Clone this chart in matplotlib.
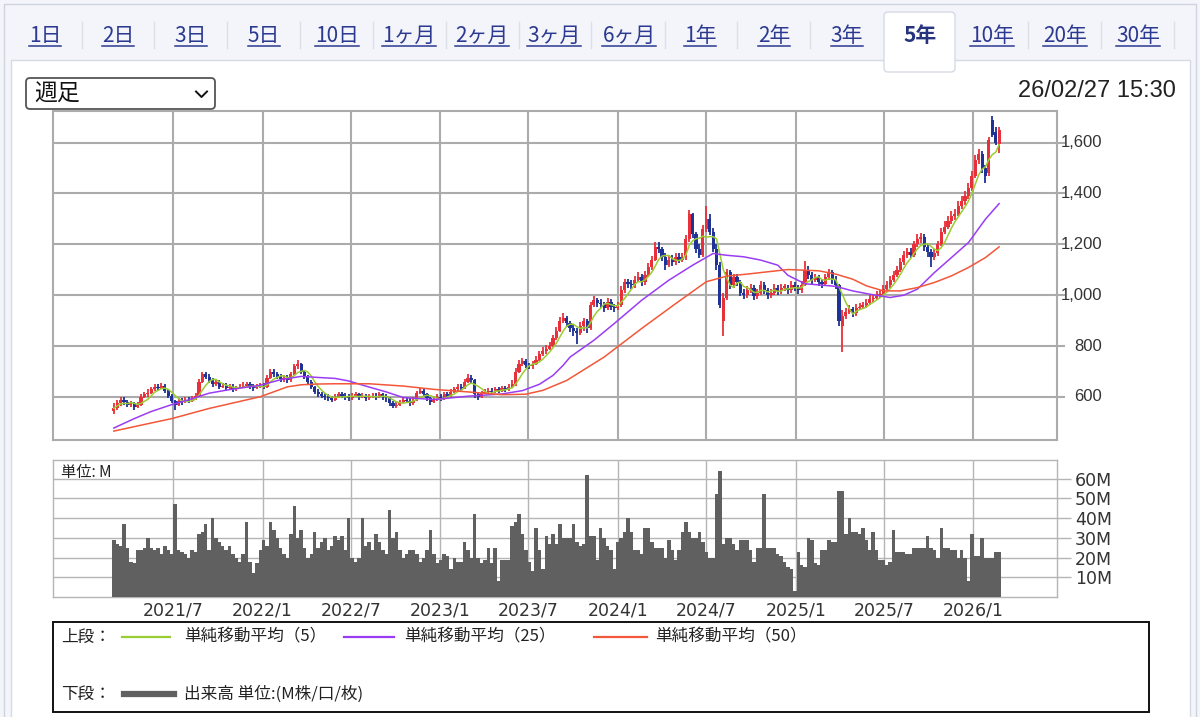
import numpy as np
import pandas as pd
import matplotlib
matplotlib.use("Agg")
import matplotlib.pyplot as plt
import matplotlib.dates as mdates
from matplotlib.patches import Rectangle, FancyBboxPatch

plt.rcParams['font.family'] = ['Noto Sans CJK JP', 'DejaVu Sans']

# weekly candles, one per week starting Monday 2021-03-01
opens = [545, 555, 575, 590, 580, 570, 575, 560, 570, 600,
         610, 615, 630, 640, 635, 645, 625, 605, 585, 570,
         585, 580, 590, 585, 595, 605, 660, 690, 680, 665,
         650, 660, 640, 645, 635, 640, 630, 635, 640, 645,
         650, 640, 635, 640, 645, 640, 675, 700, 690, 680,
         670, 675, 665, 690, 720, 730, 700, 680, 660, 640,
         620, 610, 605, 600, 595, 590, 600, 610, 605, 600,
         595, 605, 610, 600, 605, 595, 600, 605, 600, 610,
         600, 595, 575, 565, 570, 580, 590, 585, 575, 590,
         615, 625, 610, 595, 580, 590, 600, 595, 610, 605,
         620, 630, 640, 635, 660, 675, 665, 610, 600, 615,
         620, 625, 620, 630, 625, 635, 630, 640, 650, 700,
         730, 740, 725, 720, 730, 745, 770, 780, 790, 800,
         830, 860, 900, 910, 890, 870, 860, 850, 880, 900,
         870, 960, 980, 970, 965, 950, 975, 955, 950, 960,
         1020, 1050, 1045, 1040, 1060, 1070, 1050, 1080, 1110, 1140,
         1190, 1180, 1150, 1120, 1140, 1130, 1150, 1140, 1150, 1220,
         1320, 1240, 1180, 1160, 1260, 1300, 1250, 1180, 1120, 900,
         990, 1090, 1040, 1070, 1050, 1010, 1000, 1020, 1030, 995,
         1010, 1040, 1020, 1000, 1010, 1030, 1015, 1030, 1030, 1020,
         1040, 1030, 1020, 1040, 1100, 1080, 1060, 1070, 1050, 1045,
         1070, 1090, 1060, 1040, 880, 920, 935, 945, 930, 950,
         955, 960, 970, 985, 990, 1000, 1005, 1025, 1040, 1060,
         1080, 1100, 1130, 1160, 1170, 1160, 1200, 1220, 1230, 1190,
         1170, 1150, 1165, 1200, 1250, 1270, 1290, 1310, 1320, 1350,
         1370, 1390, 1420, 1470, 1530, 1555, 1500, 1480, 1690, 1640,
         1595]
highs = [575, 590, 600, 600, 590, 585, 580, 580, 610, 620,
         630, 640, 650, 650, 655, 650, 630, 610, 590, 595,
         595, 600, 600, 605, 615, 670, 700, 700, 690, 675,
         670, 665, 655, 655, 650, 650, 645, 650, 660, 660,
         660, 650, 650, 655, 655, 685, 710, 710, 700, 690,
         685, 685, 700, 730, 745, 735, 705, 685, 665, 645,
         630, 620, 615, 610, 605, 610, 620, 620, 615, 610,
         615, 620, 615, 615, 610, 610, 615, 615, 620, 615,
         610, 600, 585, 580, 590, 600, 600, 595, 600, 625,
         635, 630, 615, 600, 600, 610, 610, 620, 620, 630,
         640, 650, 650, 670, 690, 685, 670, 620, 625, 630,
         635, 635, 640, 640, 645, 645, 650, 665, 715, 745,
         755, 750, 735, 740, 760, 780, 795, 805, 815, 845,
         875, 915, 930, 920, 900, 885, 870, 895, 910, 905,
         975, 995, 990, 985, 975, 990, 985, 965, 975, 1035,
         1065, 1065, 1060, 1075, 1090, 1085, 1095, 1125, 1155, 1210,
         1210, 1190, 1165, 1160, 1160, 1165, 1165, 1165, 1235, 1335,
         1325, 1250, 1200, 1275, 1350, 1320, 1265, 1200, 1130, 1010,
         1105, 1100, 1085, 1085, 1060, 1025, 1035, 1045, 1040, 1025,
         1055, 1050, 1030, 1025, 1045, 1040, 1045, 1045, 1040, 1055,
         1050, 1040, 1055, 1135, 1115, 1090, 1085, 1080, 1065, 1085,
         1105, 1100, 1075, 1045, 940, 950, 960, 955, 965, 970,
         975, 985, 1000, 1005, 1015, 1020, 1040, 1055, 1075, 1095,
         1115, 1145, 1175, 1185, 1185, 1215, 1240, 1245, 1240, 1200,
         1180, 1180, 1215, 1265, 1290, 1310, 1330, 1340, 1370, 1390,
         1410, 1440, 1490, 1550, 1575, 1565, 1510, 1620, 1705, 1660,
         1660]
lows = [535, 550, 565, 570, 560, 560, 550, 555, 565, 595,
        600, 610, 625, 625, 630, 615, 595, 575, 550, 565,
        570, 575, 575, 580, 590, 600, 655, 670, 655, 640,
        645, 630, 635, 625, 630, 620, 625, 630, 635, 640,
        630, 625, 630, 635, 630, 635, 670, 680, 670, 660,
        660, 655, 660, 685, 710, 690, 670, 650, 630, 610,
        600, 595, 590, 585, 580, 585, 595, 595, 590, 585,
        590, 600, 590, 595, 585, 590, 595, 590, 595, 590,
        580, 565, 555, 555, 565, 575, 575, 565, 570, 585,
        610, 600, 585, 570, 575, 585, 585, 590, 595, 600,
        615, 625, 625, 630, 655, 655, 595, 590, 595, 610,
        615, 610, 615, 615, 620, 620, 625, 635, 645, 695,
        720, 715, 710, 710, 725, 740, 760, 770, 785, 795,
        825, 855, 890, 875, 855, 840, 810, 845, 860, 850,
        865, 955, 955, 950, 935, 940, 940, 935, 940, 955,
        1010, 1030, 1025, 1030, 1050, 1035, 1040, 1070, 1100, 1135,
        1165, 1135, 1100, 1110, 1115, 1120, 1125, 1130, 1140, 1210,
        1225, 1165, 1145, 1150, 1250, 1235, 1170, 1100, 950, 840,
        980, 1025, 1030, 1035, 995, 985, 990, 1010, 980, 985,
        1000, 1005, 985, 990, 1000, 1000, 1005, 1015, 1005, 1010,
        1015, 1005, 1010, 1035, 1065, 1045, 1050, 1035, 1030, 1035,
        1060, 1045, 1025, 880, 775, 905, 925, 915, 920, 940,
        945, 950, 960, 975, 980, 990, 995, 1015, 1030, 1050,
        1070, 1090, 1120, 1145, 1145, 1150, 1190, 1205, 1175, 1150,
        1110, 1140, 1155, 1195, 1240, 1260, 1280, 1295, 1310, 1340,
        1355, 1380, 1410, 1460, 1515, 1480, 1440, 1470, 1620, 1590,
        1560]
closes = [555, 575, 590, 580, 570, 575, 560, 570, 600, 610,
          615, 630, 640, 635, 645, 625, 605, 585, 570, 585,
          580, 590, 585, 595, 605, 660, 690, 680, 665, 650,
          660, 640, 645, 635, 640, 630, 635, 640, 645, 650,
          640, 635, 640, 645, 640, 675, 700, 690, 680, 670,
          675, 665, 690, 720, 730, 700, 680, 660, 640, 620,
          610, 605, 600, 595, 590, 600, 610, 605, 600, 595,
          605, 610, 600, 605, 595, 600, 605, 600, 610, 600,
          595, 575, 565, 570, 580, 590, 585, 575, 590, 615,
          625, 610, 595, 580, 590, 600, 595, 610, 605, 620,
          630, 640, 635, 660, 675, 665, 610, 600, 615, 620,
          625, 620, 630, 625, 635, 630, 640, 650, 700, 730,
          740, 725, 720, 730, 745, 770, 780, 790, 800, 830,
          860, 900, 910, 890, 870, 860, 850, 880, 900, 870,
          960, 980, 970, 965, 950, 975, 955, 950, 960, 1020,
          1050, 1045, 1040, 1060, 1070, 1050, 1080, 1110, 1140, 1190,
          1180, 1150, 1120, 1140, 1130, 1150, 1140, 1150, 1220, 1320,
          1240, 1180, 1160, 1260, 1300, 1250, 1180, 1120, 960, 990,
          1090, 1040, 1070, 1050, 1010, 1000, 1020, 1030, 995, 1010,
          1040, 1020, 1000, 1010, 1030, 1015, 1030, 1030, 1020, 1040,
          1030, 1020, 1040, 1100, 1080, 1060, 1070, 1050, 1045, 1070,
          1090, 1060, 1040, 900, 920, 935, 945, 930, 950, 955,
          960, 970, 985, 990, 1000, 1005, 1025, 1040, 1060, 1080,
          1100, 1130, 1160, 1170, 1160, 1200, 1220, 1230, 1190, 1170,
          1150, 1165, 1200, 1250, 1270, 1290, 1310, 1320, 1350, 1370,
          1390, 1420, 1470, 1530, 1555, 1500, 1470, 1610, 1630, 1600,
          1650]
# weekly volume, millions of shares
volumes = [29, 27, 26, 37, 25, 18, 17, 24, 24, 25,
           30, 25, 24, 25, 22, 26, 24, 22, 47, 24,
           23, 22, 20, 24, 23, 32, 33, 37, 24, 40,
           30, 28, 26, 24, 26, 22, 20, 18, 22, 38,
           18, 12, 17, 24, 29, 26, 38, 34, 30, 25,
           22, 20, 32, 46, 30, 34, 25, 20, 22, 33,
           25, 28, 30, 24, 26, 31, 29, 31, 24, 40,
           20, 18, 20, 40, 26, 28, 24, 32, 28, 24,
           22, 44, 30, 33, 24, 20, 22, 24, 24, 22,
           18, 20, 24, 34, 22, 17, 19, 22, 21, 14,
           20, 18, 18, 28, 24, 20, 42, 20, 17, 19,
           25, 17, 25, 8, 19, 19, 19, 36, 38, 42,
           32, 24, 18, 13, 35, 24, 14, 31, 27, 32,
           27, 37, 30, 30, 30, 37, 28, 26, 27, 62,
           31, 31, 19, 35, 30, 26, 24, 14, 28, 30,
           33, 40, 33, 24, 24, 22, 35, 35, 28, 25,
           25, 25, 20, 29, 24, 19, 24, 33, 38, 33,
           30, 30, 33, 28, 23, 20, 20, 52, 64, 27,
           30, 30, 27, 24, 29, 29, 29, 24, 18, 25,
           25, 52, 25, 25, 25, 22, 21, 18, 15, 14,
           3, 23, 16, 15, 30, 29, 17, 16, 24, 24,
           29, 28, 28, 54, 54, 32, 40, 33, 33, 32,
           35, 29, 24, 33, 24, 19, 19, 16, 18, 34,
           23, 23, 23, 22, 22, 25, 25, 25, 25, 31,
           25, 24, 20, 35, 25, 25, 24, 24, 20, 24,
           20, 8, 32, 21, 21, 30, 20, 20, 20, 23,
           23]

# 25 and 50 week moving averages (week index, value)
ma25_weeks = [0, 6, 11, 17, 22, 28, 34, 43, 49, 55, 61, 65, 69, 75, 80, 85, 94,
              104, 114, 120, 125, 129, 132, 134, 141, 147, 155, 163, 170, 176,
              180, 185, 190, 195, 198, 203, 212, 217, 222, 228, 232, 236, 241,
              246, 251, 256, 260]
ma25_vals = [478, 515, 543, 570, 589, 615, 629, 646, 668, 681, 676, 673, 663, 639,
             620, 598, 590, 603, 612, 625, 650, 685, 725, 757, 823, 889, 980,
             1059, 1118, 1164, 1157, 1151, 1138, 1118, 1078, 1045, 1035, 1017,
             1004, 991, 1000, 1024, 1089, 1148, 1207, 1299, 1360]
ma50_weeks = [0, 10, 17, 28, 43, 51, 55, 60, 65, 75, 85, 94, 104, 114, 121, 126,
              133, 144, 155, 165, 174, 180, 186, 192, 198, 207, 212, 217, 221,
              226, 231, 236, 241, 246, 251, 256, 260]
ma50_vals = [466, 495, 515, 555, 601, 640, 648, 651, 652, 652, 643, 630, 620, 609,
             611, 626, 665, 757, 869, 967, 1053, 1075, 1083, 1092, 1101, 1096,
             1083, 1063, 1037, 1017, 1017, 1030, 1050, 1076, 1109, 1148, 1190]

grid_dates = ['2021-07-01', '2022-01-01', '2022-07-01', '2023-01-01', '2023-07-01',
              '2024-01-01', '2024-07-01', '2025-01-01', '2025-07-01', '2026-01-01']
grid_labels = ['2021/7', '2022/1', '2022/7', '2023/1', '2023/7',
               '2024/1', '2024/7', '2025/1', '2025/7', '2026/1']
price_ticks = [600, 800, 1000, 1200, 1400, 1600]
vol_ticks = [10, 20, 30, 40, 50, 60]

tab_labels = ['1日', '2日', '3日', '5日', '10日', '1ヶ月', '2ヶ月', '3ヶ月', '6ヶ月',
              '1年', '2年', '3年', '5年', '10年', '20年', '30年']
tab_cx = [45, 118, 191, 264, 337, 409, 482, 554, 629, 700, 774, 847, 920, 992, 1065, 1138]
tab_sep = [82, 154, 227, 300, 373, 446, 519, 591, 665, 737, 810, 1028, 1101, 1174]
selected = '5年'

RED = '#e8303a'
BLUE = '#1f3296'
GRID = '#ababab'
LINK = '#2b3990'

W, H = 1200, 717
fig = plt.figure(figsize=(W / 100, H / 100), dpi=100)
fig.patch.set_facecolor('#f4f5fb')

bg = fig.add_axes([0, 0, 1, 1])
bg.set_xlim(0, W)
bg.set_ylim(H, 0)
bg.axis('off')
bg.set_zorder(0)


def box(x0, y0, w, h):
    return [x0 / W, 1 - (y0 + h) / H, w / W, h / H]


# page frame, white panel and tab bar
bg.add_patch(Rectangle((3.5, 3.5), 1192, 720, fc='none', ec='#cfd3de', lw=1))
bg.add_patch(Rectangle((11, 60), 1179, 665, fc='white', ec='#d6dae4', lw=1))
bg.add_patch(FancyBboxPatch((884, 12), 71, 60, boxstyle='round,pad=0,rounding_size=4',
                            fc='white', ec='#d6dae4', lw=1))
bg.add_patch(Rectangle((885, 58), 69, 8, fc='white', ec='none'))
for sx in tab_sep:
    bg.plot([sx, sx], [22, 48], color='#dcdfe8', lw=1)

tab_texts = []
for lab, cx in zip(tab_labels, tab_cx):
    if lab == selected:
        bg.text(cx, 36, lab, ha='center', va='center', fontsize=15, color='#26347f',
                fontweight='bold')
    else:
        tab_texts.append(bg.text(cx, 36, lab, ha='center', va='center', fontsize=15,
                                 color=LINK))

# select box and time stamp
bg.add_patch(FancyBboxPatch((26, 78), 189, 31, boxstyle='round,pad=0,rounding_size=4',
                            fc='white', ec='#555555', lw=1.3))
bg.text(34, 94, '週足', ha='left', va='center', fontsize=16.5, color='#111111')
bg.plot([196, 201.5, 207], [91.5, 97, 91.5], color='#111111', lw=1.4)
bg.text(1176, 91, '26/02/27 15:30', ha='right', va='center', fontsize=17,
        family='Liberation Sans', color='#222222')

# legend box
bg.add_patch(Rectangle((53, 622), 1096, 90, fc='white', ec='#111111', lw=1.4))
ly1, ly2 = 637, 694
bg.text(61, ly1, '上段：', ha='left', va='center', fontsize=12, color='#222222')
bg.plot([122, 170], [ly1, ly1], color='#9acd32', lw=1.6)
bg.text(184, ly1, '単純移動平均（5）', ha='left', va='center', fontsize=12, color='#222222')
bg.plot([344, 394], [ly1, ly1], color='#9b3cf5', lw=1.6)
bg.text(404, ly1, '単純移動平均（25）', ha='left', va='center', fontsize=12, color='#222222')
bg.plot([594, 647], [ly1, ly1], color='#f2573a', lw=1.6)
bg.text(655, ly1, '単純移動平均（50）', ha='left', va='center', fontsize=12, color='#222222')
bg.text(61, ly2, '下段：', ha='left', va='center', fontsize=12, color='#222222')
bg.plot([124, 174], [ly2, ly2], color='#606060', lw=4.5)
bg.text(184, ly2, '出来高 単位:(M株/口/枚)', ha='left', va='center', fontsize=12,
        color='#222222')

# price panel
dates = pd.date_range('2021-03-01', periods=len(closes), freq='7D')
x = mdates.date2num(dates)
gx = mdates.date2num(pd.to_datetime(grid_dates))
x_left = mdates.date2num(pd.Timestamp('2020-10-27'))
x_right = mdates.date2num(pd.Timestamp('2026-06-22'))

ax = fig.add_axes(box(53, 111, 1004, 329))
ax.set_zorder(2)
ax.set_facecolor('white')
ax.set_xlim(x_left, x_right)
ax.set_ylim(431, 1724)
ax.set_xticks(gx)
ax.set_yticks(price_ticks)
ax.grid(True, color=GRID, lw=1.5)
ax.set_axisbelow(True)
ax.tick_params(axis='x', length=0, labelbottom=False)
ax.yaxis.tick_right()
ax.tick_params(axis='y', length=6, width=1.5, color=GRID, labelright=False)
for s in ax.spines.values():
    s.set_color(GRID)
    s.set_linewidth(1.5)
for v in price_ticks:
    ax.text(1.0450, v, f'{v:,}', transform=ax.get_yaxis_transform(), ha='right',
            va='center', fontsize=12, family='Liberation Sans', color='#333333')

o = np.array(opens)
c = np.array(closes)
hi = np.array(highs)
lo = np.array(lows)
cols = np.where(c >= o, RED, BLUE)
ax.vlines(x, lo, hi, colors=cols, lw=1.3, zorder=3)
ax.bar(x, np.maximum(np.abs(c - o), 5), bottom=np.minimum(o, c), width=6.5,
       color=cols, linewidth=0, zorder=3)

ma5 = pd.Series(closes).rolling(5, min_periods=1).mean()
ax.plot(x, ma5, color='#9acd32', lw=1.1, zorder=4)
ax.plot(x[ma25_weeks], ma25_vals, color='#9b3cf5', lw=1.1, zorder=4)
ax.plot(x[ma50_weeks], ma50_vals, color='#f2573a', lw=1.1, zorder=4)

# volume panel
axv = fig.add_axes(box(53, 460, 1004, 137))
axv.set_zorder(2)
axv.set_facecolor('white')
axv.set_xlim(x_left, x_right)
axv.set_ylim(0, 69.5)
axv.bar(x, volumes, width=7.0, color='#606060', linewidth=0, zorder=3)
axv.set_xticks(gx)
axv.set_xticklabels(grid_labels)
axv.set_yticks(vol_ticks)
axv.set_yticklabels([f'{v}M' for v in vol_ticks])
axv.grid(True, color='#b5b5b5', lw=1.0)
axv.set_axisbelow(True)
axv.yaxis.tick_right()
axv.tick_params(axis='y', length=10, width=1.0, color='#b5b5b5', pad=3,
                labelsize=12.5, labelcolor='#333333')
axv.tick_params(axis='x', length=0, pad=3, labelsize=12.5, labelcolor='#333333')
for lab in axv.get_xticklabels() + axv.get_yticklabels():
    lab.set_family('DejaVu Sans')
for s in axv.spines.values():
    s.set_color('#b5b5b5')
    s.set_linewidth(1.0)
axv.text(8 / 1004, 1 - 13 / 137, '単位: M', transform=axv.transAxes, ha='left',
         va='center', fontsize=11, color='#222222')

# underline the tab links
fig.canvas.draw()
r = fig.canvas.get_renderer()
for t in tab_texts:
    bb = t.get_window_extent(r)
    bg.plot([bb.x0, bb.x1], [45.5, 45.5], color=LINK, lw=1.1)

fig.savefig('out.png', dpi=100, facecolor=fig.get_facecolor())
